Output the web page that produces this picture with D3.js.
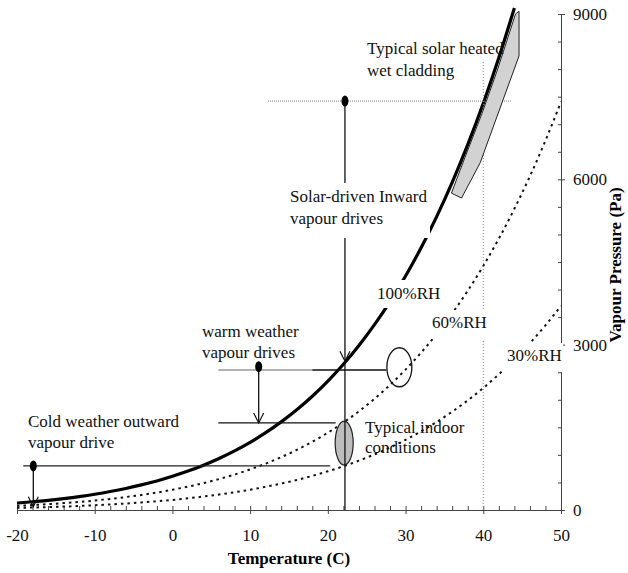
<!DOCTYPE html>
<html>
<head>
<meta charset="utf-8">
<script src="https://cdn.jsdelivr.net/npm/d3@7"></script>
<style>
body { margin: 0; background: #fff; }
</style>
</head>
<body>
<svg id="figure_container"></svg>
<script>
// saturation curve (100%RH)
var satTemps = [-20,-18,-16,-14,-12,-10,-8,-6,-4,-2,0,2,4,6,8,10,12,14,16,18,20,22,24,26,28,30,32,34,36,38,40,42,44];
var rh100 = [125,150,176,208,244,286,335,391,455,527,611,706,813,935,1073,1228,1403,1599,1818,2064,2339,2645,2985,3363,3782,4246,4759,5324,5946,6630,7381,8205,9108];

// 60% and 30% RH curves
var rhTemps = [-20,-18,-16,-14,-12,-10,-8,-6,-4,-2,0,2,4,6,8,10,12,14,16,18,20,22,24,26,28,30,32,34,36,38,40,42,44,46,48,50];
var rh60 = [75,90,106,125,146,172,201,235,273,316,367,424,488,561,644,737,842,959,1091,1238,1403,1587,1791,2018,2269,2548,2855,3194,3568,3978,4429,4923,5465,6056,6703,7406];
var rh30 = [38,45,53,62,73,86,101,117,137,158,183,212,244,281,322,368,421,480,545,619,702,794,896,1009,1135,1274,1428,1597,1784,1989,2214,2462,2732,3028,3351,3703];

// shaded "solar heated wet cladding" zone (temperature, pressure)
var claddingT = [44.6, 44.6, 39.6, 37.2, 35.9, 37.65, 39.85, 41.85, 44.15];
var claddingP = [9050, 8240, 6300, 5660, 5750, 6400, 7200, 8000, 9000];

var xTicks = [-20,-10,0,10,20,30,40,50];
var yTicks = [0,3000,6000,9000];

var serif = "'Liberation Serif', 'Times New Roman', Times, serif";

var vis = d3.select("#figure_container"),
	plotwidth = 628,
	plotheight = 573;

vis.attr("width", plotwidth).attr("height", plotheight);

var x = d3.scaleLinear().domain([-20, 50]).range([17, 561]),
	y = d3.scaleLinear().domain([0, 9000]).range([510, 14]);

var line = d3.line()
	.x(function(d){return x(d[0]);})
	.y(function(d){return y(d[1]);})
	.curve(d3.curveMonotoneX);

function pairs(ts, vs){
	return ts.map(function(t, i){return [t, vs[i]];});
}
function plain(d){ return String(d); }

// axes
var xAxisG = vis.append("g").attr("transform", "translate(0," + y(0) + ")");
xAxisG.call(d3.axisBottom(x).tickValues(xTicks).tickFormat(plain).tickSize(4).tickSizeOuter(0).tickPadding(15));
var xMinor = vis.append("g").attr("transform", "translate(0," + y(0) + ")");
xMinor.call(d3.axisTop(x).tickValues(d3.range(-20, 51, 2)).tickSize(4).tickFormat("").tickSizeOuter(0));

var yAxisG = vis.append("g").attr("transform", "translate(" + x(50) + ",0)");
yAxisG.call(d3.axisRight(y).tickValues(yTicks).tickFormat(plain).tickSize(4).tickSizeOuter(0).tickPadding(8));
var yMinor = vis.append("g").attr("transform", "translate(" + x(50) + ",0)");
yMinor.call(d3.axisLeft(y).tickValues(d3.range(0, 9001, 500)).tickSize(3).tickFormat("").tickSizeOuter(0));

vis.selectAll(".domain, .tick line").attr("stroke", "#444").attr("stroke-width", 1);
vis.selectAll(".tick text")
	.style("font-family", serif)
	.style("font-size", "17px")
	.attr("fill", "#111");

// curves
vis.append("path").datum(pairs(rhTemps, rh60)).attr("d", line)
	.attr("fill", "none").attr("stroke", "#111").attr("stroke-width", 2).attr("stroke-dasharray", "2.5,4");
vis.append("path").datum(pairs(rhTemps, rh30)).attr("d", line)
	.attr("fill", "none").attr("stroke", "#111").attr("stroke-width", 2).attr("stroke-dasharray", "2.5,4");
vis.append("path").datum(pairs(satTemps, rh100)).attr("d", line)
	.attr("fill", "none").attr("stroke", "#000").attr("stroke-width", 3.2);

// thin guide lines
vis.append("line")
	.attr("x1", x(40)).attr("x2", x(40)).attr("y1", y(8130)).attr("y2", y(0))
	.attr("stroke", "#888").attr("stroke-width", 1).attr("stroke-dasharray", "1,2");
vis.append("line")
	.attr("x1", x(12.3)).attr("x2", x(43.7)).attr("y1", y(7420)).attr("y2", y(7420))
	.attr("stroke", "#777").attr("stroke-width", 1).attr("stroke-dasharray", "1,1");

// ellipses
vis.append("ellipse")
	.attr("cx", x(29.2)).attr("cy", y(2590)).attr("rx", 12.5).attr("ry", 19.5)
	.attr("fill", "none").attr("stroke", "#111").attr("stroke-width", 1.3);
vis.append("ellipse")
	.attr("cx", x(22.1)).attr("cy", y(1215)).attr("rx", 9).attr("ry", 22)
	.attr("fill", "#bdbdbd").attr("stroke", "#222").attr("stroke-width", 1.2);

// horizontal drive lines
var hLines = [
	{t1: 5.9, t2: 18.0, p: 2540, c: "#999"},
	{t1: 18.0, t2: 27.5, p: 2540, c: "#111"},
	{t1: 5.9, t2: 21.0, p: 1580, c: "#111"},
	{t1: -19.2, t2: 20.3, p: 800, c: "#222"}
];
vis.selectAll(".hline").data(hLines).enter().append("line")
	.attr("x1", function(d){return x(d.t1);})
	.attr("x2", function(d){return x(d.t2);})
	.attr("y1", function(d){return y(d.p);})
	.attr("y2", function(d){return y(d.p);})
	.attr("stroke", function(d){return d.c;})
	.attr("stroke-width", 1.3);

// vertical drive lines with arrow tips
var vLines = [
	{t: 22.2, p1: 7420, p2: 0, tip: 2700},
	{t: 11.1, p1: 2600, p2: 1580, tip: 1580},
	{t: -17.9, p1: 800, p2: 60, tip: 60}
];
vis.selectAll(".vline").data(vLines).enter().append("line")
	.attr("x1", function(d){return x(d.t);})
	.attr("x2", function(d){return x(d.t);})
	.attr("y1", function(d){return y(d.p1);})
	.attr("y2", function(d){return y(d.p2);})
	.attr("stroke", "#111").attr("stroke-width", 1.3);
vis.selectAll(".arrow").data(vLines).enter().append("path")
	.attr("d", function(d){
		var ax = x(d.t), ay = y(d.tip);
		return "M" + (ax - 5) + "," + (ay - 10) + "L" + ax + "," + ay + "L" + (ax + 5) + "," + (ay - 10);
	})
	.attr("fill", "none").attr("stroke", "#111").attr("stroke-width", 1.2);

// dots
var dots = [[22.2, 7420], [11.1, 2600], [-17.9, 800]];
vis.selectAll(".dot").data(dots).enter().append("ellipse")
	.attr("cx", function(d){return x(d[0]);})
	.attr("cy", function(d){return y(d[1]);})
	.attr("rx", 3.5).attr("ry", 5.5).attr("fill", "#000");

// cladding zone
vis.append("path").datum(pairs(claddingT, claddingP))
	.attr("d", d3.line().x(function(d){return x(d[0]);}).y(function(d){return y(d[1]);}).curve(d3.curveLinearClosed))
	.attr("fill", "#d2d2d2").attr("stroke", "#222").attr("stroke-width", 1);

// white boxes behind labels (they cut the lines)
var boxes = [[287, 183, 143, 55], [374, 280, 66, 28], [430, 310, 57, 29], [503, 343, 60, 29]];
vis.selectAll(".box").data(boxes).enter().append("rect")
	.attr("x", function(d){return d[0];}).attr("y", function(d){return d[1];})
	.attr("width", function(d){return d[2];}).attr("height", function(d){return d[3];})
	.attr("fill", "#fff");

// annotation text
var labels = [
	["Typical solar heated", 367, 54],
	["wet cladding", 367, 76],
	["Solar-driven Inward", 290, 202],
	["vapour drives", 290, 224],
	["100%RH", 377, 299],
	["60%RH", 432, 328],
	["30%RH", 507, 361],
	["warm weather", 202, 337],
	["vapour drives", 202, 358],
	["Typical indoor", 365, 433],
	["conditions", 365, 453],
	["Cold weather outward", 28, 427],
	["vapour drive", 28, 448]
];
vis.selectAll(".lbl").data(labels).enter().append("text")
	.attr("x", function(d){return d[1];})
	.attr("y", function(d){return d[2];})
	.style("font-family", serif)
	.style("font-size", "17px")
	.attr("fill", "#111")
	.text(function(d){return d[0];});

// axis titles
vis.append("text")
	.attr("x", (x(-20) + x(50)) / 2).attr("y", 564)
	.attr("text-anchor", "middle")
	.style("font-family", serif).style("font-size", "17px").style("font-weight", "bold")
	.text("Temperature (C)");
vis.append("text")
	.attr("transform", "translate(621,265) rotate(-90)")
	.attr("text-anchor", "middle")
	.style("font-family", serif).style("font-size", "17px").style("font-weight", "bold")
	.text("Vapour Pressure (Pa)");
</script>
</body>
</html>
